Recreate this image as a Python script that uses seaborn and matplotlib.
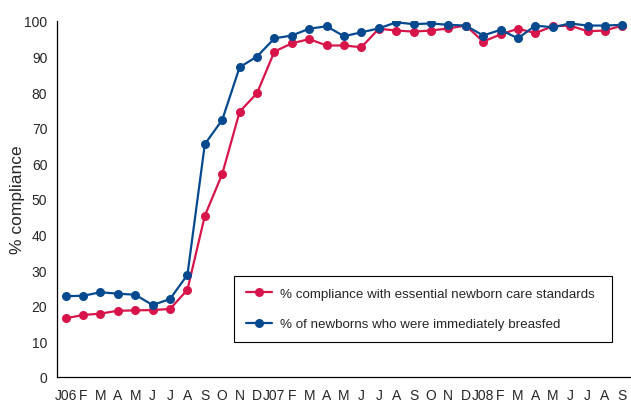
import pandas as pd
import matplotlib
matplotlib.use("Agg")
import matplotlib.pyplot as plt
import seaborn as sns

# Month labels, Jan 2006 - Sep 2008
MONTHS = ["J06", "F", "M", "A", "M", "J", "J", "A", "S", "O", "N", "D",
          "J07", "F", "M", "A", "M", "J", "J", "A", "S", "O", "N", "D",
          "J08", "F", "M", "A", "M", "J", "J", "A", "S"]

# % compliance with essential newborn care standards
COMPLIANCE = [16.5, 17.4, 17.8, 18.6, 18.7, 18.8, 19.1, 24.5, 45.3, 57.0, 74.5, 79.7,
              91.4, 93.7, 94.9, 93.1, 93.1, 92.6, 97.8, 97.3, 97.0, 97.3, 97.9, 98.7,
              94.2, 96.2, 97.8, 96.6, 98.5, 98.7, 97.1, 97.3, 98.7]

# % of newborns who were immediately breastfed
BREASTFED = [22.7, 22.8, 23.8, 23.4, 23.1, 20.2, 21.9, 28.7, 65.4, 72.2, 87.0, 90.0,
             95.1, 95.9, 97.8, 98.5, 95.7, 96.8, 97.9, 99.6, 99.1, 99.3, 98.9, 98.7,
             95.9, 97.5, 95.1, 98.7, 98.2, 99.3, 98.7, 98.7, 98.9]

LABELS = ["% compliance with essential newborn care standards",
          "% of newborns who were immediately breasfed"]
RED = "#d7154a"
BLUE = "#06498f"

sns.set_style("white")
plt.rcParams['font.family'] = ['Liberation Sans', 'DejaVu Sans']

df = pd.DataFrame({"idx": range(len(MONTHS)), "red": COMPLIANCE, "blue": BREASTFED})

fig = plt.figure(figsize=(6.31, 4.06), dpi=100)
ax = fig.add_axes([0.0903, 0.069, 0.9097, 0.877])

sns.lineplot(data=df, x="idx", y="red", color=RED, marker="o", markersize=6.5,
             markeredgewidth=0, linewidth=1.6, ax=ax, label=LABELS[0])
sns.lineplot(data=df, x="idx", y="blue", color=BLUE, marker="o", markersize=6.5,
             markeredgewidth=0, linewidth=1.6, ax=ax, label=LABELS[1])

ax.set_xlim(-0.5, 32.11)
ax.set_ylim(0, 100)
ax.set_yticks(range(0, 101, 10))
ax.set_xticks(range(len(MONTHS)))
ax.set_xticklabels(MONTHS)
ax.set_xticks([i - 0.5 for i in range(1, len(MONTHS) + 1)], minor=True)
ax.tick_params(axis="x", which="major", length=0, pad=8, labelsize=10)
ax.tick_params(axis="x", which="minor", length=4, width=0.8, color="black", direction="out")
ax.tick_params(axis="y", length=5, width=0.8, color="black", direction="out", labelsize=10, pad=2)
ax.set_xlabel("")
ax.set_ylabel("% compliance", fontsize=12.5)
ax.yaxis.set_label_coords(-0.056, 0.5)

for s in ["top", "right"]:
    ax.spines[s].set_visible(False)
for s in ["left", "bottom"]:
    ax.spines[s].set_color("black")
    ax.spines[s].set_linewidth(0.9)

leg = ax.legend(loc="center", bbox_to_anchor=(0.308, 0.084, 0.659, 0.214), mode="expand",
                fontsize=9.6, frameon=True, fancybox=False, edgecolor="black",
                framealpha=1, handlelength=2.0, handletextpad=0.6,
                labelspacing=1.35, borderpad=0.9, borderaxespad=0)
leg.get_frame().set_linewidth(0.8)

fig.savefig("out.png", dpi=100)
